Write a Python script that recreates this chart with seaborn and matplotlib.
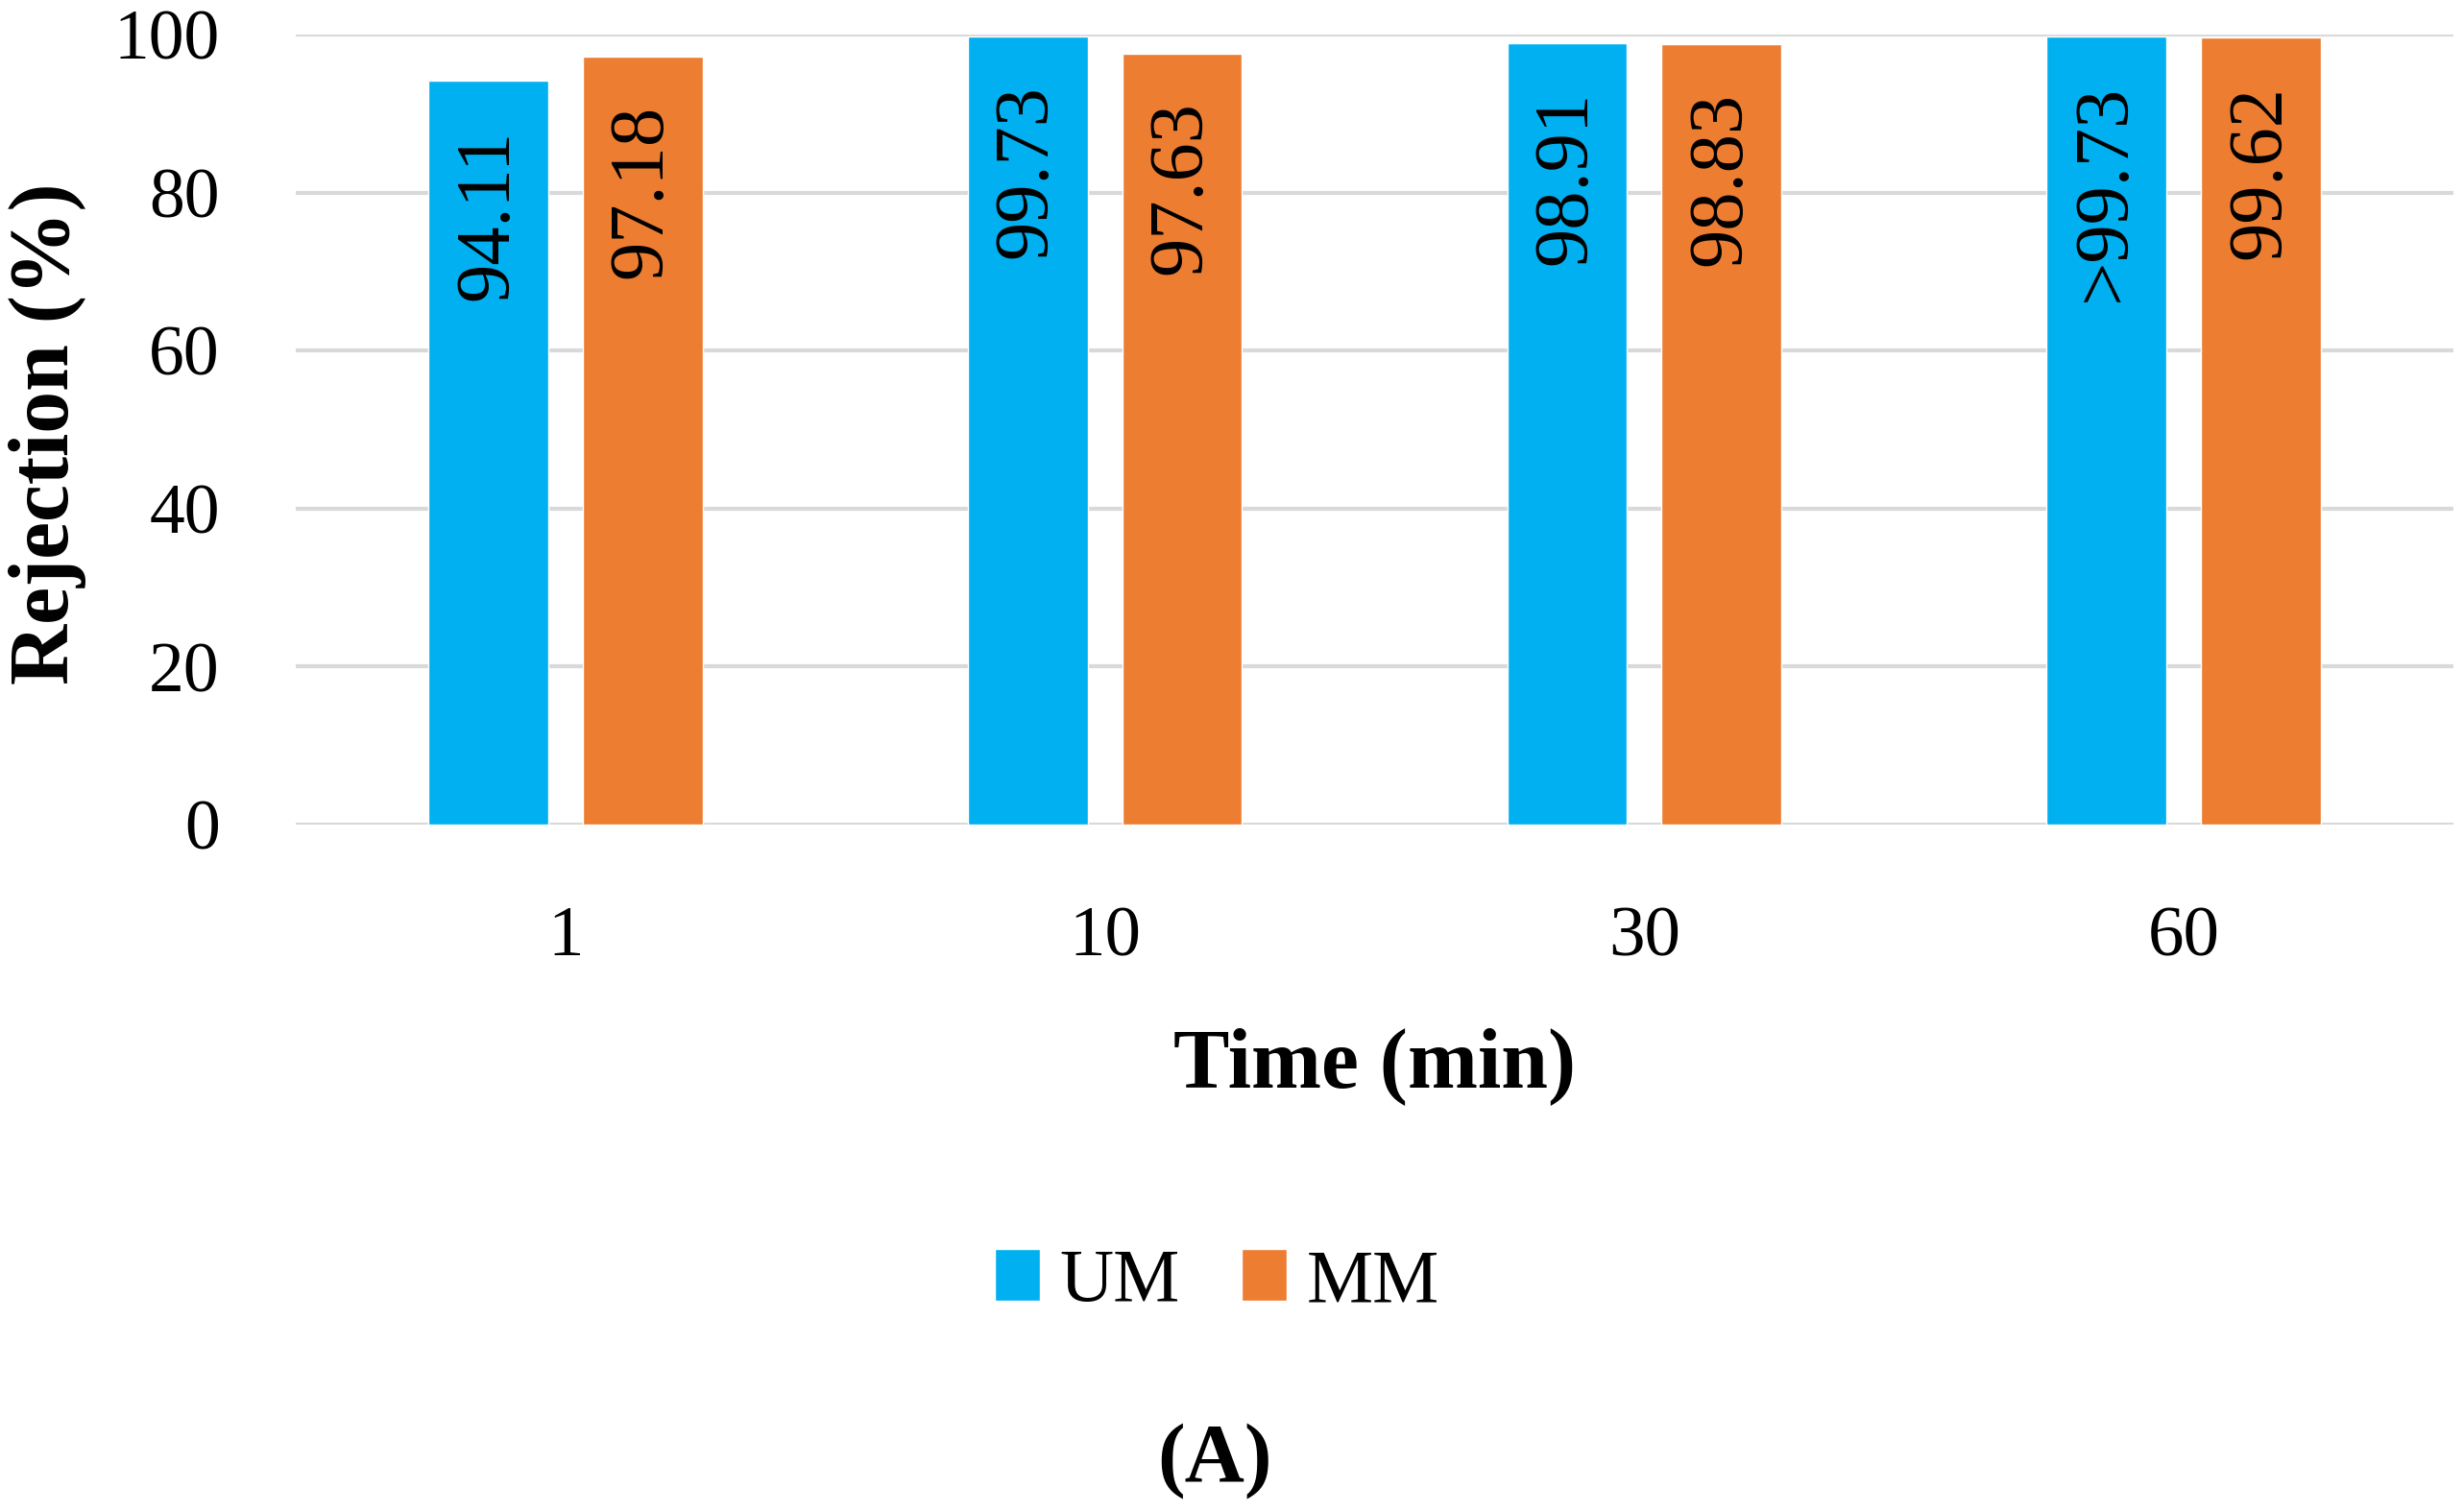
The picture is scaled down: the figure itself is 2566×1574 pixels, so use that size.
import matplotlib
matplotlib.use("Agg")
import matplotlib.pyplot as plt
import seaborn as sns
import pandas as pd

# data
times = ["1", "10", "30", "60"]
um_values = [94.11, 99.73, 98.91, 99.73]
mm_values = [97.18, 97.63, 98.83, 99.62]
um_labels = ["94.11", "99.73", "98.91", ">99.73"]
mm_labels = ["97.18", "97.63", "98.83", "99.62"]
series = ["UM", "MM"]
colors = ["#00B0F0", "#ED7D31"]

df = pd.DataFrame({
    "Time": times * 2,
    "Rejection": um_values + mm_values,
    "Membrane": ["UM"] * len(times) + ["MM"] * len(times),
})

sns.set_theme(style="white")
plt.rcParams["font.family"] = ["Liberation Serif", "DejaVu Serif"]
plt.rcParams["text.color"] = "black"
plt.rcParams["axes.labelcolor"] = "black"
plt.rcParams["xtick.color"] = "black"
plt.rcParams["ytick.color"] = "black"

fig = plt.figure(figsize=(25.66, 15.74), dpi=100)
ax = fig.add_axes([308 / 2566, 1 - 859 / 1574, (2555 - 308) / 2566, (859 - 36) / 1574])

sns.barplot(data=df, x="Time", y="Rejection", hue="Membrane", hue_order=series,
            palette=colors, width=0.572, gap=0.224, saturation=1, ax=ax)

# value labels, rotated, inside the top of each bar
for container, labels in zip(ax.containers, [um_labels, mm_labels]):
    for bar, lbl in zip(container, labels):
        ax.annotate(lbl, (bar.get_x() + bar.get_width() / 2, bar.get_height()),
                    xytext=(0, -36), textcoords="offset points",
                    rotation=90, ha="center", va="top", fontsize=58, color="black")

ax.set_ylim(0, 100)
ax.set_xlim(-0.5, 3.5)
ax.set_yticks(range(0, 101, 20))
ax.set_axisbelow(True)
ax.yaxis.grid(True, color="#d9d9d9", linewidth=3)
ax.xaxis.grid(False)
for s in ax.spines.values():
    s.set_visible(False)
ax.tick_params(axis="y", labelsize=53, pad=57, length=0)
ax.tick_params(axis="x", labelsize=54, pad=61, length=0)

ax.set_xlabel("Time (min)", fontsize=63, fontweight="bold")
ax.set_ylabel("Rejection (%)", fontsize=63, fontweight="bold")
ax.xaxis.set_label_coords(0.5, -0.257)
ax.yaxis.set_label_coords(-0.097, 0.495)

handles, labels = ax.get_legend_handles_labels()
ax.get_legend().remove()
fig.legend(handles, labels, loc="center", bbox_to_anchor=(0.494, 0.151), ncol=2,
           frameon=False, fontsize=56, handlelength=0.6, handleheight=0.68,
           handletextpad=0.27, columnspacing=0.83)

fig.text(0.493, 0.033, "(A)", ha="center", va="center", fontsize=62, fontweight="bold")

fig.savefig("out.png", dpi=100)
